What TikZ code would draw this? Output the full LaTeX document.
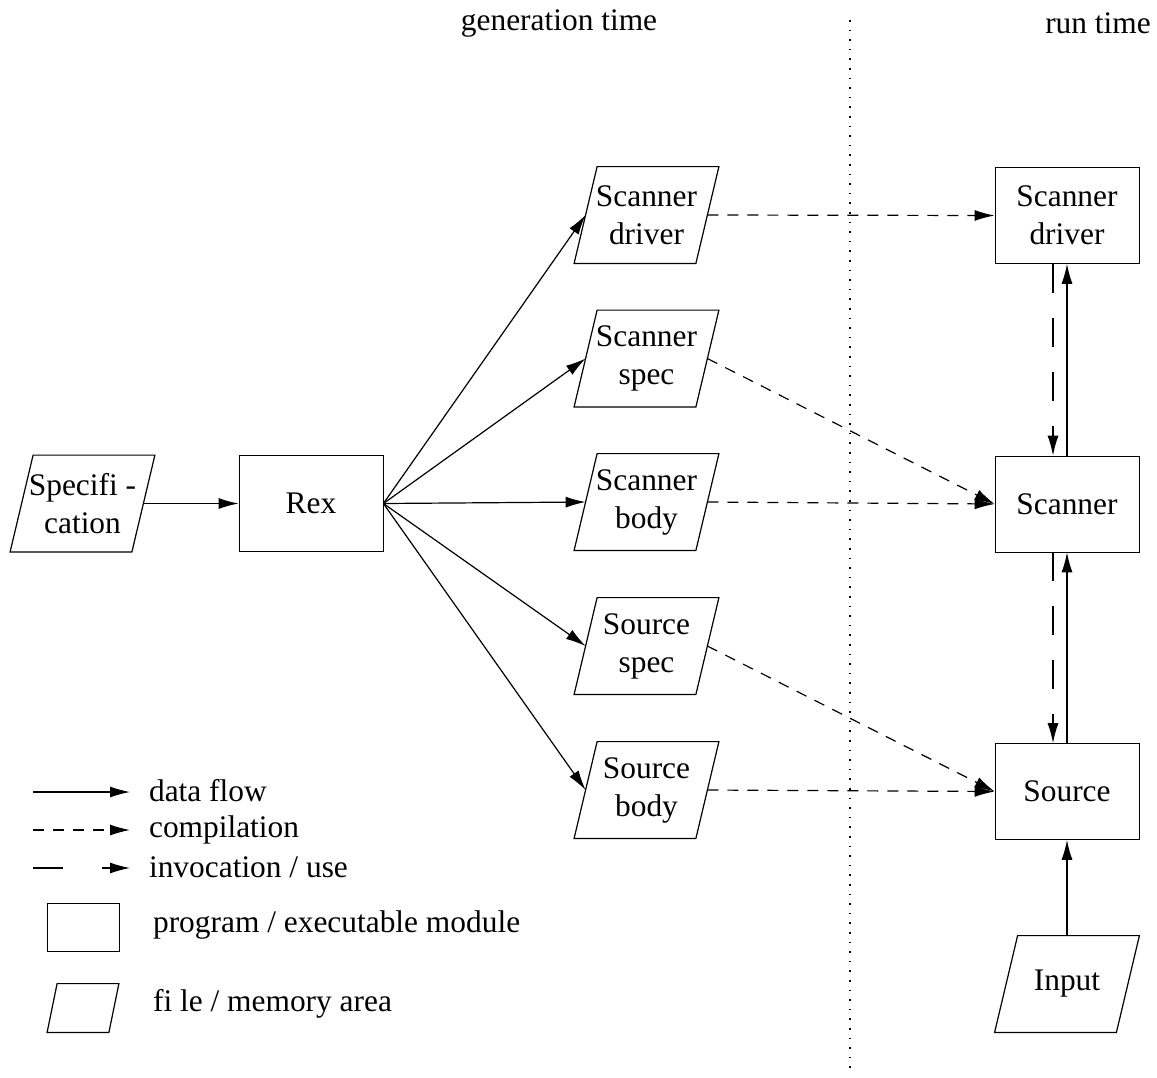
\documentclass[tikz,border=0pt]{standalone}
\usepackage{fontspec}
\setmainfont{Liberation Serif}
\usetikzlibrary{arrows.meta}

\tikzset{
    prog/.style={draw, rectangle, minimum width=72pt, minimum height=48pt,
        inner sep=0pt, align=center},
    file/.style={rectangle, minimum width=60.5pt, minimum height=48pt,
        inner sep=0pt, align=center,
        append after command={\pgfextra{
            \draw[semithick] ([xshift=-#1]\tikzlastnode.south west)
                -- ([xshift=-#1]\tikzlastnode.south east)
                -- ([xshift=#1]\tikzlastnode.north east)
                -- ([xshift=#1]\tikzlastnode.north west) -- cycle;}}},
    file/.default=5.75pt,
    flow/.style={semithick, -{Latex[length=10pt, width=5.5pt]}},
    comp/.style={flow, dash pattern=on 5.5pt off 4.5pt},
    invoke/.style={flow, dash pattern=on 14.5pt off 12.5pt},
}

\begin{document}
\begin{tikzpicture}[x=0.5pt, y=-0.5pt, font=\fontsize{15.7}{19}\selectfont]
    \useasboundingbox (0,0) rectangle (1157,1077);

    \node (gen) at (559,23) {generation time};
    \node (run) at (1098,23) {run time};
    \draw[line width=0.8pt, dash pattern=on 0.8pt off 4pt] (850,20) -- (850,1072);

    \node[file] (spec) at (82.5,503.5) {Specifi -\\cation};
    \node[prog] (rex) at (311,503.5) {Rex};

    \node[file] (sdrv) at (646.5,215) {Scanner\\driver};
    \node[file] (sspec) at (646.5,358.5) {Scanner\\spec};
    \node[file] (sbody) at (646.5,502) {Scanner\\body};
    \node[file] (srspec) at (646.5,646) {Source\\spec};
    \node[file] (srbody) at (646.5,790) {Source\\body};

    \node[prog] (drv) at (1067,215.5) {Scanner\\driver};
    \node[prog] (scn) at (1067,504) {Scanner};
    \node[prog] (src) at (1067,791.5) {Source};
    \node[file] (inp) at (1067,984) {Input};

    \draw[flow] (spec) -- (rex);
    \foreach \f in {sdrv, sspec, sbody, srspec, srbody}
        \draw[flow] (rex.east) -- (\f.west);

    \draw[comp] (sdrv.east) -- (drv.west);
    \draw[comp] (sspec.east) -- (scn.west);
    \draw[comp] (sbody.east) -- (scn.west);
    \draw[comp] (srspec.east) -- (src.west);
    \draw[comp] (srbody.east) -- (src.west);

    \draw[invoke] ([xshift=-7pt]drv.south) -- ([xshift=-7pt]scn.north);
    \draw[flow] (scn.north) -- (drv.south);
    \draw[invoke] ([xshift=-7pt]scn.south) -- ([xshift=-7pt]src.north);
    \draw[flow] (src.north) -- (scn.south);
    \draw[flow] (inp) -- (src);

    % legend
    \draw[flow] (33,792) -- (130,792);
    \draw[comp] (33,830) -- (130,830);
    \draw[semithick] (33,868) -- (63,868);
    \draw[flow] (102,868) -- (130,868);
    \node[anchor=west] (lflow) at (142,791) {data flow};
    \node[anchor=west] (lcomp) at (142,830) {compilation};
    \node[anchor=west] (linv) at (142,867) {invocation / use};
    \node[prog, minimum width=36pt, minimum height=24pt] (lprog) at (83,927) {};
    \node[file=2.5pt, minimum width=30.5pt, minimum height=24pt] (lfile) at (83,1008) {};
    \node[anchor=west] (lptxt) at (146,925) {program / executable module};
    \node[anchor=west] (lftxt) at (146,1004) {fi le / memory area};
\end{tikzpicture}
\end{document}
